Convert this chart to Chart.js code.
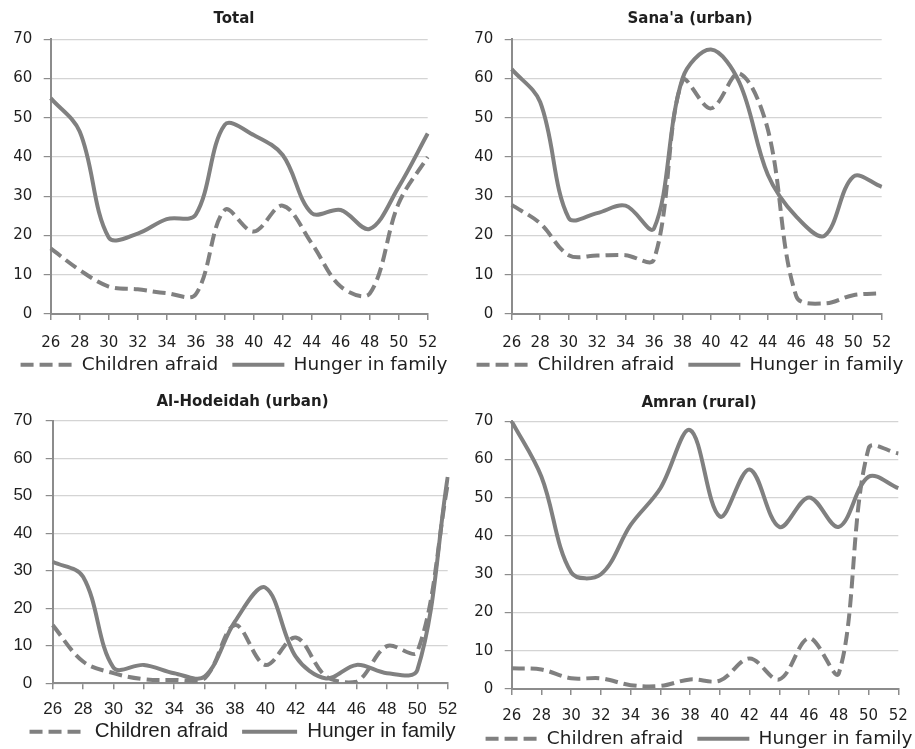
<!DOCTYPE html>
<html>
<head>
<meta charset="utf-8">
<script src="https://cdn.jsdelivr.net/npm/chart.js@4/dist/chart.umd.min.js"></script>
<style>
  html, body { margin: 0; padding: 0; width: 915px; height: 749px; overflow: hidden; background: #ffffff; }
  canvas { position: absolute; }
</style>
</head>
<body>
<canvas id="cTotal"></canvas>
<canvas id="cSanaa"></canvas>
<canvas id="cHodeidah"></canvas>
<canvas id="cAmran"></canvas>
<script>
// Survey weeks (every second week, 26 to 52)
const weeks = [26, 28, 30, 32, 34, 36, 38, 40, 42, 44, 46, 48, 50, 52];
const seriesNames = ['Children afraid', 'Hunger in family'];
const panelTitles = ['Total', "Sana'a (urban)", 'Al-Hodeidah (urban)', 'Amran (rural)'];
const yTicks = [0, 10, 20, 30, 40, 50, 60, 70];

// Percent of households, per week
const totalChildren    = [16.7, 11.2, 7.0, 6.3, 5.3, 5.0, 26.5, 21.0, 27.6, 18.0, 7.0, 5.2, 28.2, 40.0];
const totalHunger      = [55.0, 46.5, 19.5, 20.5, 24.2, 25.3, 48.2, 45.6, 40.5, 25.7, 26.5, 21.7, 32.4, 46.0];
const sanaaChildren    = [27.8, 23.1, 15.0, 14.9, 15.0, 13.9, 59.5, 52.4, 61.3, 47.0, 4.5, 2.7, 4.8, 5.3];
const sanaaHunger      = [62.4, 54.0, 24.5, 25.7, 27.6, 21.8, 60.0, 67.4, 59.0, 35.5, 24.8, 20.0, 35.0, 32.4];
const hodeidahChildren = [15.5, 5.8, 2.7, 1.1, 0.9, 1.3, 15.5, 4.9, 12.2, 1.8, 0.4, 9.9, 8.4, 53.0];
const hodeidahHunger   = [32.4, 28.4, 4.2, 4.9, 2.7, 1.8, 16.5, 25.5, 7.1, 1.3, 4.9, 2.7, 3.5, 55.0];
const amranChildren    = [5.4, 5.1, 2.8, 2.8, 1.0, 0.8, 2.5, 2.2, 8.0, 2.5, 13.3, 4.1, 62.9, 61.6];
const amranHunger      = [70.0, 55.5, 30.5, 30.0, 42.9, 52.5, 67.7, 45.1, 57.4, 42.4, 50.1, 42.4, 55.5, 52.5];

const LINE = '#808080';
const AXIS = '#8c8c8c';
const GRID = '#d4d4d4';
const TEXT = '#1f1f1f';

// Let the week labels spill below the (deliberately short) x-axis box without being clipped
const labelRoom = {
  id: 'labelRoom',
  afterLayout(chart) { chart.scales.x.bottom = chart.height; }
};

function legendItems(chart) {
  const items = Chart.defaults.plugins.legend.labels.generateLabels(chart);
  items.forEach((it, i) => {
    const ds = chart.data.datasets[i];
    it.lineDash = ds.borderDash || [];
    it.lineWidth = ds.borderWidth;
    it.strokeStyle = ds.borderColor;
    it.lineCap = 'butt';
  });
  return items;
}

function drawPanel(id, title, children, hunger, b) {
  const cv = document.getElementById(id);
  cv.width = b.w; cv.height = b.h;
  cv.style.left = b.left + 'px'; cv.style.top = b.top + 'px';
  cv.style.width = b.w + 'px'; cv.style.height = b.h + 'px';
  const tickFont = { family: b.tickFamily, size: b.tickSize };
  new Chart(cv, {
    type: 'line',
    data: {
      labels: weeks.map(String),
      datasets: [
        { label: seriesNames[0], data: children, borderColor: LINE, backgroundColor: LINE,
          borderWidth: 4, borderDash: [13, 6], borderCapStyle: 'butt', pointRadius: 0, tension: 0.35, fill: false },
        { label: seriesNames[1], data: hunger, borderColor: LINE, backgroundColor: LINE,
          borderWidth: 4, pointRadius: 0, tension: 0.35, fill: false }
      ]
    },
    plugins: [labelRoom],
    options: {
      responsive: false,
      animation: false,
      events: [],
      layout: { padding: 0 },
      plugins: {
        title: {
          display: true, text: title, color: TEXT,
          font: { family: 'DejaVu Sans', size: 15, weight: 'bold', lineHeight: 1.2 },
          padding: { top: b.tPadTop, bottom: b.tPadBot }
        },
        legend: {
          position: 'bottom',
          labels: {
            usePointStyle: true, pointStyle: 'line', pointStyleWidth: b.boxW,
            padding: 14, color: TEXT,
            font: { family: b.legFamily, size: b.legSize },
            generateLabels: legendItems
          }
        },
        tooltip: { enabled: false }
      },
      scales: {
        x: {
          type: 'category',
          grid: { display: true, drawOnChartArea: false, drawTicks: true, tickLength: 6, color: AXIS, lineWidth: 1.5 },
          border: { display: true, color: AXIS, width: 2 },
          ticks: { autoSkip: false, maxRotation: 0, padding: b.xTickPad, color: TEXT, font: tickFont },
          afterFit(s) { s.height = b.xH; s.paddingLeft = 0; s.paddingRight = b.padR; }
        },
        y: {
          min: 0, max: 70,
          afterBuildTicks(s) { s.ticks = yTicks.map(v => ({ value: v })); },
          ticks: { padding: b.yTickPad, color: TEXT, font: tickFont },
          grid: { color: GRID, lineWidth: 1.2, tickLength: 7, tickColor: AXIS },
          border: { display: true, color: AXIS, width: 2 },
          afterFit(s) { s.width = b.yW; s.paddingTop = 0; s.paddingBottom = 0; }
        }
      }
    }
  });
}

const topRow = { top: 0, h: 384, w: 468, xH: 27.5, tPadTop: 9.8, tPadBot: 11.5,
  tickFamily: 'DejaVu Sans', tickSize: 15, xTickPad: 14, yTickPad: 11.4,
  legFamily: 'DejaVu Sans', legSize: 18.5, boxW: 52 };

drawPanel('cTotal', panelTitles[0], totalChildren, totalHunger,
  Object.assign({}, topRow, { left: 0, yW: 50.7, padR: 40.3 }));
drawPanel('cSanaa', panelTitles[1], sanaaChildren, sanaaHunger,
  Object.assign({}, topRow, { left: 456, yW: 55.7, padR: 42.3 }));
drawPanel('cHodeidah', panelTitles[2], hodeidahChildren, hodeidahHunger,
  { left: 0, top: 380, w: 485, h: 372, yW: 52.7, padR: 37.3, xH: 24.2, tPadTop: 13.5, tPadBot: 9.2,
    tickFamily: 'Liberation Sans', tickSize: 17, xTickPad: 9.5, yTickPad: 13.4,
    legFamily: 'Liberation Sans', legSize: 20.5, boxW: 55 });
drawPanel('cAmran', panelTitles[3], amranChildren, amranHunger,
  { left: 460, top: 380, w: 478, h: 378, yW: 51.7, padR: 39.7, xH: 26.5, tPadTop: 14, tPadBot: 9.3,
    tickFamily: 'DejaVu Sans', tickSize: 15, xTickPad: 12, yTickPad: 11.4,
    legFamily: 'DejaVu Sans', legSize: 18.5, boxW: 52 });
</script>
</body>
</html>
